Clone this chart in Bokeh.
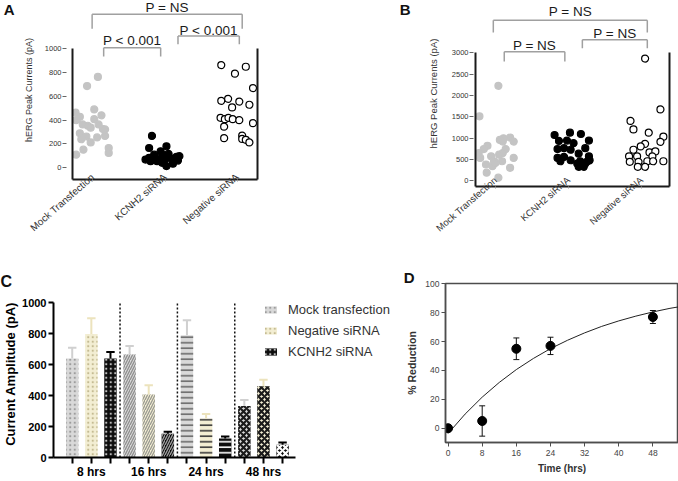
from bokeh.plotting import figure
from bokeh.models import (Range1d, LinearAxis, FixedTicker, Legend, LegendItem,
                          ColumnDataSource, Title)
from bokeh.layouts import row, column
from bokeh.embed import file_html
from bokeh.resources import INLINE
from bokeh.core.properties import value

FONT = "Liberation Sans"

# ---------------- data ----------------
categories = ["Mock Transfection", "KCNH2 siRNA", "Negative siRNA"]

# Panel A (hERG peak currents, pA); x = category index + jitter
a_mock_x = [0.07, -0.08, 0.02, -0.24, -0.18, 0.12, -0.23, 0.02, -0.14, -0.07, -0.03, 0.08,
            0.14, 0.17, -0.18, -0.09, 0.17, 0.06, -0.03, -0.16, -0.13, 0.22, 0.22, -0.23]
a_mock_y = [764, 687, 490, 463, 427, 440, 399, 407, 363, 352, 336, 363,
            324, 321, 288, 261, 266, 253, 211, 238, 150, 164, 122, 108]
a_kcnh2_x = [0.82, 0.78, 1.02, 0.94, 0.85, 0.98, 1.20, 0.78, 1.07, 1.14, 0.80,
             0.89, 0.96, 1.11, 1.02, 1.18, 0.87, 1.05, 0.94, 0.73, 1.00, 1.16]
a_kcnh2_y = [266, 164, 178, 136, 108, 103, 95, 80, 80, 75, 53,
             53, 39, 31, 11, 58, 66, 114, 80, 66, 66, 90]
a_neg_x = [1.78, 2.12, 1.97, 2.22, 1.78, 1.875, 2.03, 1.93, 2.17, 1.77, 1.83,
           1.88, 1.94, 2.03, 1.82, 2.22, 1.82, 2.07, 2.07, 2.12, 2.17]
a_neg_y = [864, 850, 792, 670, 562, 579, 556, 507, 529, 419, 407,
           419, 407, 399, 344, 374, 247, 269, 241, 233, 211]
a_br_left = [0.15, 1.18, -0.01]
a_br_right = [0.94, 2.03, 2.07]
a_br_level = [1011, 1110, 1293]
a_br_leg = [936, 1040, 1170]
a_br_text_y = [1069, 1156, 1351]
a_br_text = ["P < 0.001", "P < 0.001", "P = NS"]

# Panel B
b_mock_x = [0.04, -0.22, 0.06, 0.20, 0.25, -0.11, -0.16, 0.14, -0.23, -0.06, 0.10, 0.25,
            -0.21, -0.02, 0.09, -0.13, -0.04, 0.00, 0.20, -0.12, 0.04, 0.11, 0.05, 0.10]
b_mock_y = [2228, 1511, 956, 1010, 918, 817, 740, 740, 648, 571, 648, 532,
            532, 455, 455, 378, 339, 416, 300, 185, 69, 995, 609, 918]
b_kcnh2_x = [0.81, 1.02, 1.17, 1.28, 0.87, 0.98, 1.07, 0.85, 0.94, 1.03, 1.23, 1.14,
             0.85, 0.94, 1.28, 1.03, 1.16, 1.26, 1.12, 1.23, 1.14, 1.21, 0.89, 1.29]
b_kcnh2_y = [1072, 1126, 1095, 940, 933, 940, 879, 740, 763, 725, 763, 632,
             532, 555, 571, 478, 455, 455, 401, 401, 324, 324, 455, 478]
b_neg_x = [2.05, 2.26, 1.85, 1.89, 2.10, 2.30, 2.26, 2.05, 1.99, 1.89, 1.83,
           1.94, 2.11, 2.19, 2.15, 1.84, 1.96, 2.08, 2.16, 2.30, 1.95, 2.05]
b_neg_y = [2868, 1673, 1403, 1203, 1126, 1033, 910, 864, 802, 725, 571,
           571, 663, 686, 571, 440, 440, 455, 455, 455, 324, 324]
b_br_left = [0.12, 1.19, -0.03]
b_br_right = [0.95, 2.08, 2.08]
b_br_level = [3030, 3308, 3771]
b_br_leg = [2799, 3111, 3481]
b_br_text_y = [3169, 3447, 3979]
b_br_text = ["P = NS", "P = NS", "P = NS"]

# Panel C (current amplitude, pA)
hours = ["8 hrs", "16 hrs", "24 hrs", "48 hrs"]
series_names = ["Mock transfection", "Negative siRNA", "KCNH2 siRNA"]
mock_c = [639, 665, 789, 333]
mock_c_err = [70, 54, 97, 38]
neg_c = [797, 407, 251, 460]
neg_c_err = [102, 59, 29, 42]
kcnh2_c = [639, 154, 122, 82]
kcnh2_c_err = [42, 12, 13, 15]

# Panel D (% reduction vs time)
d_time = [0, 8, 16, 24, 48]
d_reduction = [0, 5, 55, 57, 77]
d_err = [0, 10.5, 7.5, 6, 4.5]
fit_time = [0, 4, 8, 12, 16, 20, 24, 28, 32, 36, 40, 44, 48, 52, 54]
fit_reduction = [-3.7, 9.8, 21.5, 31.7, 40.6, 48.3, 55.1, 60.9, 66.0, 70.5, 74.3, 77.6, 80.5, 83.0, 84.0]


def no_align(p):
    try:
        p.frame_align = False
    except AttributeError:
        pass


# ---------------- panels A and B ----------------
def scatter_panel(width, b_left, b_right, b_bottom, x_rng, y_rng, y_ticks, y_top,
                  series, br_l, br_r, br_lev, br_leg, br_ty, br_txt, letter, letter_y, letter_standoff,
                  tick_in, tick_out, ylab_size, ylab_standoff, cat_size, cat_standoff, angle):
    p = figure(width=width, height=240, x_range=Range1d(*x_rng), y_range=Range1d(*y_rng),
               output_backend="svg", toolbar_location=None, x_axis_type=None, y_axis_type=None,
               min_border_left=b_left, min_border_right=b_right, min_border_top=0,
               min_border_bottom=b_bottom, outline_line_color=None)
    no_align(p)
    yax = LinearAxis(ticker=FixedTicker(ticks=y_ticks), bounds=(y_rng[0], y_top),
                     axis_label="hERG Peak Currents (pA)", axis_line_width=2, axis_line_color="#1a1a1a",
                     major_tick_in=tick_in, major_tick_out=tick_out, major_tick_line_color="#666666",
                     major_label_standoff=1, major_label_text_font=FONT,
                     major_label_text_font_size="7.5px", major_label_text_color="#333333",
                     axis_label_text_font=FONT, axis_label_text_font_size=ylab_size,
                     axis_label_text_font_style="normal", axis_label_text_color="#333333",
                     axis_label_standoff=ylab_standoff)
    p.add_layout(yax, "left")
    # panel letter, drawn as the single tick label of an outer, line-less axis
    lax = LinearAxis(ticker=FixedTicker(ticks=[letter_y]), major_label_overrides={letter_y: letter},
                     axis_line_color=None, major_tick_line_color=None, major_tick_in=0,
                     major_tick_out=0, major_label_standoff=letter_standoff,
                     major_label_text_font=FONT, major_label_text_font_size="15px",
                     major_label_text_font_style="bold", major_label_text_color="#111111")
    p.add_layout(lax, "left")
    xax = LinearAxis(ticker=FixedTicker(ticks=[0, 1, 2]),
                     major_label_overrides={i: c for i, c in enumerate(categories)},
                     major_label_orientation=angle, axis_line_width=2, axis_line_color="#1a1a1a",
                     major_tick_in=0, major_tick_out=2, major_tick_line_color="#999999",
                     major_label_standoff=cat_standoff, major_label_text_font=FONT,
                     major_label_text_font_size=cat_size, major_label_text_color="#333333")
    p.add_layout(xax, "below")
    rax = LinearAxis(ticker=FixedTicker(ticks=[]), bounds=(y_rng[0], y_top), axis_line_width=2,
                     axis_line_color="#1a1a1a", major_tick_in=0, major_tick_out=0,
                     major_label_text_font_size="1px")
    p.add_layout(rax, "right")

    for xs, ys, fill, line in series:
        p.scatter(xs, ys, size=7, fill_color=fill, line_color=line, line_width=1.2)

    bcol = "#a0a0a0"
    p.segment(x0=br_l, y0=br_lev, x1=br_r, y1=br_lev, line_color=bcol, line_width=1.5)
    p.segment(x0=br_l, y0=br_leg, x1=br_l, y1=br_lev, line_color=bcol, line_width=1.5)
    p.segment(x0=br_r, y0=br_leg, x1=br_r, y1=br_lev, line_color=bcol, line_width=1.5)
    p.text(x=[(a + b) / 2 for a, b in zip(br_l, br_r)], y=br_ty, text=br_txt,
           text_font=value(FONT), text_font_size="13.5px", text_align="center",
           text_baseline="middle", text_color="#1a1a1a")
    return p


pA = scatter_panel(340, 66, 83, 58, (-0.282, 2.282), (-102, 1409.5),
                   [0, 200, 400, 600, 800, 1000], 1000,
                   [(a_mock_x, a_mock_y, "#c4c4c4", "#c4c4c4"),
                    (a_kcnh2_x, a_kcnh2_y, "#000000", "#000000"),
                    (a_neg_x, a_neg_y, "#ffffff", "#000000")],
                   a_br_left, a_br_right, a_br_level, a_br_leg, a_br_text_y, a_br_text,
                   "A", 1339, 6, -6, 10, "9px", 8, "10px", -6, 0.72)

pB = scatter_panel(338, 135, 9, 51, (-0.274, 2.384), (-139, 4233),
                   [0, 500, 1000, 1500, 2000, 2500, 3000], 3000,
                   [(b_mock_x, b_mock_y, "#c4c4c4", "#c4c4c4"),
                    (b_kcnh2_x, b_kcnh2_y, "#000000", "#000000"),
                    (b_neg_x, b_neg_y, "#ffffff", "#000000")],
                   b_br_left, b_br_right, b_br_level, b_br_leg, b_br_text_y, b_br_text,
                   "B", 4037, 14, -2, 6, "9.5px", 10, "9.5px", -10, 0.72)

# ---------------- panel C ----------------
pC = figure(width=395, height=241, x_range=Range1d(-0.979, 16.8), y_range=Range1d(0, 1077.8),
            output_backend="svg", toolbar_location=None, x_axis_type=None, y_axis_type=None,
            min_border_left=48, min_border_right=2, min_border_top=50, min_border_bottom=21,
            outline_line_color=None)
no_align(pC)

group_hatch = ["dot", "right_diagonal_line", "horizontal_line", "diagonal_cross"]
group_hatch_scale = [4.5, 5, 5.5, 6]
group_hatch_weight = [1.3, 1.3, 1.6, 2.2]
series_fill = ["#d9d9d9", "#f3eed3", "#0d0d0d"]
series_hatch_color = [["#9c9c9c", "#8f8f8f", "#6b6b6b", "#1a1a1a"],
                      ["#c4bb92", "#9a9a92", "#3a3a3a", "#1a1a1a"],
                      ["#bdbdbd", "#a0a0a0", "#ffffff", "#ffffff"]]
series_err_color = ["#d0d0d0", "#ece3bd", "#000000"]
series_vals = [(mock_c, mock_c_err), (neg_c, neg_c_err), (kcnh2_c, kcnh2_c_err)]

n_series = len(series_vals)
legend_items = []
all_ticks = []
overrides = {}
for s, (vals, errs) in enumerate(series_vals):
    xs = [g * n_series + s for g in range(len(hours))]
    all_ticks += xs
    src = ColumnDataSource(dict(x=xs, top=vals, hp=group_hatch, hc=series_hatch_color[s],
                                hs=group_hatch_scale, hw=group_hatch_weight))
    r = pC.vbar(x="x", top="top", width=0.65, source=src, fill_color=series_fill[s],
                line_color=None, hatch_pattern="hp", hatch_color="hc", hatch_scale="hs",
                hatch_weight="hw")
    legend_items.append(LegendItem(label=series_names[s], renderers=[r], index=0))
    tops = [v + e for v, e in zip(vals, errs)]
    pC.segment(x0=xs, y0=vals, x1=xs, y1=tops, line_color=series_err_color[s], line_width=2)
    pC.segment(x0=[x - 0.22 for x in xs], y0=tops, x1=[x + 0.22 for x in xs], y1=tops,
               line_color=series_err_color[s], line_width=2)

for g, h in enumerate(hours):
    overrides[g * n_series + 1] = h
for t in all_ticks:
    overrides.setdefault(t, "")

sep_x = [g * n_series + n_series - 0.5 for g in range(len(hours) - 1)]
pC.segment(x0=sep_x, y0=[0] * len(sep_x), x1=sep_x, y1=[1000] * len(sep_x),
           line_color="#111111", line_width=1.5, line_dash="2 2")

cy = LinearAxis(ticker=FixedTicker(ticks=[0, 200, 400, 600, 800, 1000]), bounds=(0, 1000),
                axis_line_width=2, axis_line_color="#000000", major_tick_line_width=2,
                major_tick_line_color="#000000", major_tick_in=0, major_tick_out=5,
                major_label_standoff=2, major_label_text_font=FONT,
                major_label_text_font_style="bold", major_label_text_font_size="11px",
                major_label_text_color="#000000", axis_label="Current Amplitude (pA)",
                axis_label_text_font=FONT, axis_label_text_font_style="bold",
                axis_label_text_font_size="13px", axis_label_text_color="#000000",
                axis_label_standoff=1)
pC.add_layout(cy, "left")
cx = LinearAxis(ticker=FixedTicker(ticks=sorted(all_ticks)), bounds=(-0.979, 11.65),
                major_label_overrides=overrides, axis_line_width=2, axis_line_color="#000000",
                major_tick_line_width=2, major_tick_line_color="#000000", major_tick_in=0,
                major_tick_out=6, major_label_standoff=1, major_label_text_font=FONT,
                major_label_text_font_style="bold", major_label_text_font_size="12px",
                major_label_text_color="#000000")
pC.add_layout(cx, "below")

legend = Legend(items=legend_items, location=(210, 97), glyph_width=15, glyph_height=9,
                label_standoff=10, label_height=18, spacing=3, padding=0, margin=0,
                border_line_color=None, background_fill_alpha=0, label_text_font=FONT,
                label_text_font_size="13px", label_text_color="#333333")
pC.add_layout(legend)
pC.add_layout(Title(text="C", align="left", offset=-53, standoff=2, text_font=FONT,
                    text_font_size="16px", text_font_style="bold", text_color="#111111"), "above")

# ---------------- panel D ----------------
acol = "#4d4d4d"
pD = figure(width=283, height=241, x_range=Range1d(-0.6, 54.0), y_range=Range1d(-9.9, 100.2),
            output_backend="svg", toolbar_location=None, x_axis_type=None, y_axis_type=None,
            min_border_left=50, min_border_right=0, min_border_top=43, min_border_bottom=39,
            outline_line_color=acol, outline_line_width=1.5)
no_align(pD)
dy = LinearAxis(ticker=FixedTicker(ticks=[0, 20, 40, 60, 80, 100]),
                axis_line_width=1.5, axis_line_color=acol, major_tick_line_color=acol,
                major_tick_in=0, major_tick_out=4, major_label_standoff=2,
                major_label_text_font=FONT, major_label_text_font_size="8.5px",
                major_label_text_color="#444444", axis_label="% Reduction",
                axis_label_text_font=FONT, axis_label_text_font_style="bold",
                axis_label_text_font_size="10.5px", axis_label_text_color="#333333",
                axis_label_standoff=4)
pD.add_layout(dy, "left")
dx = LinearAxis(ticker=FixedTicker(ticks=[0, 8, 16, 24, 32, 40, 48]),
                axis_line_width=1.5, axis_line_color=acol, major_tick_line_color=acol,
                major_tick_in=0, major_tick_out=4, major_label_standoff=3,
                major_label_text_font=FONT, major_label_text_font_size="8.5px",
                major_label_text_color="#444444", axis_label="Time (hrs)",
                axis_label_text_font=FONT, axis_label_text_font_style="bold",
                axis_label_text_font_size="10px", axis_label_text_color="#333333",
                axis_label_standoff=4)
pD.add_layout(dx, "below")

pD.line(fit_time, fit_reduction, line_color="#222222", line_width=1)
ex = [t for t, e in zip(d_time, d_err) if e > 0]
elo = [r - e for r, e in zip(d_reduction, d_err) if e > 0]
ehi = [r + e for r, e in zip(d_reduction, d_err) if e > 0]
pD.segment(x0=ex, y0=elo, x1=ex, y1=ehi, line_color="#111111", line_width=1)
pD.segment(x0=[x - 0.7 for x in ex], y0=elo, x1=[x + 0.7 for x in ex], y1=elo,
           line_color="#111111", line_width=1)
pD.segment(x0=[x - 0.7 for x in ex], y0=ehi, x1=[x + 0.7 for x in ex], y1=ehi,
           line_color="#111111", line_width=1)
pD.scatter(d_time, d_reduction, size=9, fill_color="#000000", line_color="#000000")
pD.add_layout(Title(text="D", align="left", offset=-41.7, standoff=-4, text_font=FONT,
                    text_font_size="15px", text_font_style="bold", text_color="#111111"), "above")

layout = column(row(pA, pB), row(pC, pD))

open("out.html", "w").write(file_html(layout, INLINE))
